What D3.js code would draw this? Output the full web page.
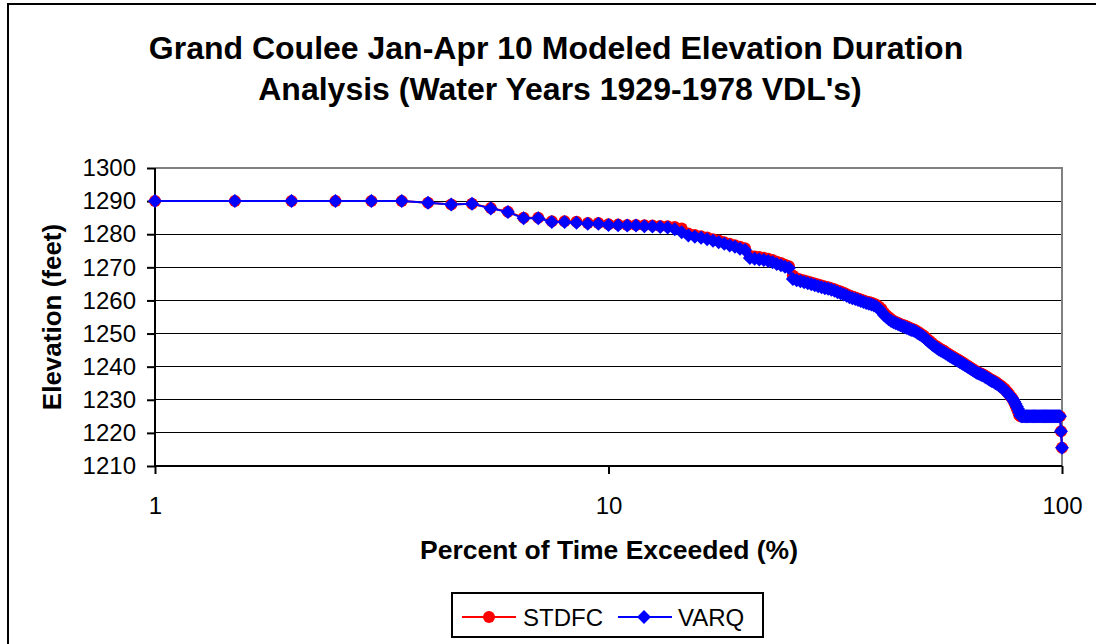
<!DOCTYPE html>
<html lang="en">
<head>
<meta charset="utf-8">
<title>Grand Coulee Elevation Duration</title>
<script src="https://d3js.org/d3.v7.min.js"></script>
<style>
  body { margin: 0; background: #fff; }
  svg { display: block; font-family: "Liberation Sans", Arial, sans-serif; }
  .tick text { font-size: 24px; fill: #000; }
</style>
</head>
<body>
<script>
// percent of time exceeded (x)
const percent = [
  1, 1.5, 2, 2.5, 3, 3.5, 4, 4.5, 5, 5.5,
  6, 6.5, 7, 7.5, 8, 8.5, 9, 9.5, 10, 10.5,
  11, 11.5, 12, 12.5, 13, 13.5, 14, 14.5, 15, 15.5,
  16, 16.5, 17, 17.5, 18, 18.5, 19, 19.5, 20, 20.5,
  21, 21.5, 22, 22.5, 23, 23.5, 24, 24.5, 25, 25.5,
  26, 26.5, 27, 27.5, 28, 28.5, 29, 29.5, 30, 30.5,
  31, 31.5, 32, 32.5, 33, 33.5, 34, 34.5, 35, 35.5,
  36, 36.5, 37, 37.5, 38, 38.5, 39, 39.5, 40, 40.5,
  41, 41.5, 42, 42.5, 43, 43.5, 44, 44.5, 45, 45.5,
  46, 46.5, 47, 47.5, 48, 48.5, 49, 49.5, 50, 50.5,
  51, 51.5, 52, 52.5, 53, 53.5, 54, 54.5, 55, 55.5,
  56, 56.5, 57, 57.5, 58, 58.5, 59, 59.5, 60, 60.5,
  61, 61.5, 62, 62.5, 63, 63.5, 64, 64.5, 65, 65.5,
  66, 66.5, 67, 67.5, 68, 68.5, 69, 69.5, 70, 70.5,
  71, 71.5, 72, 72.5, 73, 73.5, 74, 74.5, 75, 75.5,
  76, 76.5, 77, 77.5, 78, 78.5, 79, 79.5, 80, 80.5,
  81, 81.5, 82, 82.5, 83, 83.5, 84, 84.5, 85, 85.5,
  86, 86.5, 87, 87.5, 88, 88.5, 89, 89.5, 90, 90.5,
  91, 91.5, 92, 92.5, 93, 93.5, 94, 94.5, 95, 95.5,
  96, 96.5, 97, 97.5, 98, 98.5, 99, 99.5, 100
];

// STDFC elevations (feet)
const stdfc = [
  1290, 1290, 1290, 1290, 1290, 1290, 1289.5, 1289, 1289.2, 1287.9,
  1286.8, 1285, 1285, 1283.9, 1283.9, 1283.8, 1283.4, 1283.4, 1283, 1282.9,
  1282.8, 1282.8, 1282.7, 1282.6, 1282.5, 1282.4, 1282.2, 1281.7, 1280.2, 1279.8,
  1279.4, 1279.0, 1278.5, 1278.1, 1277.6, 1277.1, 1276.7, 1276.2, 1275.8, 1273.5,
  1273.3, 1273.1, 1272.9, 1272.6, 1272.2, 1271.7, 1271.3, 1270.8, 1270.3, 1267.5,
  1266.7, 1266.3, 1266.0, 1265.7, 1265.4, 1265.1, 1264.8, 1264.5, 1264.2, 1264.0,
  1263.7, 1263.4, 1263.0, 1262.7, 1262.3, 1261.9, 1261.5, 1261.2, 1260.9, 1260.6,
  1260.3, 1260.0, 1259.7, 1259.5, 1259.3, 1259.0, 1258.6, 1258.1, 1257.4, 1256.3,
  1255.5, 1254.9, 1254.3, 1253.9, 1253.5, 1253.2, 1252.9, 1252.6, 1252.4, 1252.1,
  1251.8, 1251.5, 1251.3, 1251.0, 1250.6, 1250.2, 1249.8, 1249.4, 1248.8, 1248.3,
  1247.8, 1247.3, 1246.8, 1246.4, 1246.0, 1245.6, 1245.3, 1245.0, 1244.7, 1244.3,
  1244.0, 1243.6, 1243.3, 1243.0, 1242.7, 1242.4, 1242.1, 1241.8, 1241.5, 1241.2,
  1240.8, 1240.5, 1240.2, 1239.9, 1239.6, 1239.3, 1239.0, 1238.7, 1238.4, 1238.2,
  1238.0, 1237.8, 1237.6, 1237.3, 1237.0, 1236.8, 1236.5, 1236.2, 1236.0, 1235.8,
  1235.5, 1235.3, 1235.0, 1234.7, 1234.4, 1234.1, 1233.8, 1233.4, 1233.0, 1232.6,
  1232.1, 1231.6, 1231.1, 1230.6, 1230.0, 1229.2, 1228.3, 1227.4, 1226.4, 1225.3,
  1225, 1225, 1225, 1225, 1225, 1225, 1225, 1225, 1225, 1225,
  1225, 1225, 1225, 1225, 1225, 1225, 1225, 1225, 1225, 1225,
  1225, 1225, 1225, 1225, 1225, 1225, 1225, 1225, 1225, 1225,
  1225, 1225, 1225, 1225, 1225, 1225, 1225, 1220.5, 1215.5
];

// VARQ elevations (feet)
const varq = [
  1290, 1290, 1290, 1290, 1290, 1290, 1289.5, 1289, 1289.2, 1287.8,
  1286.7, 1284.8, 1284.8, 1283.7, 1283.7, 1283.5, 1283.2, 1283.2, 1282.8, 1282.7,
  1282.6, 1282.6, 1282.4, 1282.3, 1282.2, 1282.0, 1281.5, 1280.6, 1279.6, 1279.2,
  1278.9, 1278.5, 1278.0, 1277.6, 1277.1, 1276.6, 1276.2, 1275.6, 1275.2, 1272.8,
  1272.6, 1272.4, 1272.2, 1271.9, 1271.5, 1271.0, 1270.6, 1270.2, 1269.8, 1266.5,
  1266.1, 1265.8, 1265.5, 1265.2, 1264.9, 1264.6, 1264.3, 1264.0, 1263.7, 1263.5,
  1263.2, 1262.9, 1262.5, 1262.2, 1261.8, 1261.4, 1261.0, 1260.7, 1260.4, 1260.1,
  1259.8, 1259.5, 1259.2, 1259.0, 1258.8, 1258.5, 1258.1, 1257.5, 1256.6, 1255.6,
  1254.9, 1254.3, 1253.8, 1253.4, 1253.1, 1252.8, 1252.5, 1252.2, 1252.0, 1251.7,
  1251.4, 1251.1, 1250.9, 1250.6, 1250.2, 1249.8, 1249.4, 1249.0, 1248.4, 1247.9,
  1247.4, 1246.9, 1246.4, 1246.0, 1245.6, 1245.2, 1244.9, 1244.6, 1244.3, 1243.9,
  1243.6, 1243.2, 1242.9, 1242.6, 1242.3, 1242.0, 1241.7, 1241.4, 1241.1, 1240.8,
  1240.5, 1240.2, 1239.9, 1239.6, 1239.3, 1239.0, 1238.7, 1238.4, 1238.1, 1237.9,
  1237.7, 1237.5, 1237.3, 1237.0, 1236.7, 1236.5, 1236.2, 1235.9, 1235.7, 1235.5,
  1235.2, 1235.0, 1234.7, 1234.4, 1234.1, 1233.8, 1233.5, 1233.1, 1232.7, 1232.3,
  1231.9, 1231.4, 1231.0, 1230.5, 1230.0, 1229.4, 1228.7, 1228.0, 1227.2, 1226.2,
  1225.2, 1225, 1225, 1225, 1225, 1225, 1225, 1225, 1225, 1225,
  1225, 1225, 1225, 1225, 1225, 1225, 1225, 1225, 1225, 1225,
  1225, 1225, 1225, 1225, 1225, 1225, 1225, 1225, 1225, 1225,
  1225, 1225, 1225, 1225, 1225, 1225, 1225, 1220.5, 1215.5
];

const xTicks = [1, 10, 100];
const yTicks = [1210, 1220, 1230, 1240, 1250, 1260, 1270, 1280, 1290, 1300];

const W = 1096, H = 644;
const plotL = 155, plotR = 1062, plotT = 168, plotB = 466;

const svg = d3.select("body").append("svg")
    .attr("width", W)
    .attr("height", H);

svg.append("rect").attr("width", W).attr("height", H).attr("fill", "#fff");
// chart area border (runs off the picture at right and bottom)
svg.append("rect")
    .attr("x", 8).attr("y", 4)
    .attr("width", 1110).attr("height", 660)
    .attr("fill", "none").attr("stroke", "#000").attr("stroke-width", 2);

const x = d3.scaleLog().domain([1, 100]).range([plotL, plotR]);
const y = d3.scaleLinear().domain([1210, 1300]).range([plotB, plotT]);

// title
const title = svg.append("text")
    .attr("text-anchor", "middle")
    .attr("font-weight", "bold")
    .attr("font-size", 32);
title.append("tspan").attr("x", 556).attr("y", 59)
    .text("Grand Coulee Jan-Apr 10 Modeled Elevation Duration");
title.append("tspan").attr("x", 560).attr("y", 100)
    .text("Analysis (Water Years 1929-1978 VDL's)");

// gridlines
svg.append("g")
  .selectAll("line")
  .data(yTicks.filter(v => v > 1210 && v < 1300))
  .join("line")
    .attr("x1", plotL).attr("x2", plotR)
    .attr("y1", d => y(d)).attr("y2", d => y(d))
    .attr("stroke", "#000").attr("stroke-width", 1)
    .attr("shape-rendering", "crispEdges");

// plot border, top and right in gray
svg.append("path")
    .attr("d", `M${plotL},${plotT}H${plotR}V${plotB}`)
    .attr("fill", "none").attr("stroke", "#808080").attr("stroke-width", 2);

// axes
const yAxis = svg.append("g")
    .attr("transform", `translate(${plotL},0)`)
    .call(d3.axisLeft(y).tickValues(yTicks).tickFormat(d3.format("d")).tickSize(8).tickPadding(11));
const xAxis = svg.append("g")
    .attr("transform", `translate(0,${plotB})`)
    .call(d3.axisBottom(x).tickValues(xTicks).tickFormat(d3.format("d")).tickSize(8).tickPadding(23));
[yAxis, xAxis].forEach(g => {
  g.select(".domain").remove();
  g.selectAll(".tick line").attr("stroke", "#000").attr("stroke-width", 2);
  g.selectAll(".tick text").attr("font-family", null).attr("font-size", null);
});
svg.append("path")
    .attr("d", `M${plotL},${plotT}V${plotB}H${plotR}`)
    .attr("fill", "none").attr("stroke", "#000").attr("stroke-width", 2);

// axis titles
svg.append("text")
    .attr("x", 609).attr("y", 559)
    .attr("text-anchor", "middle")
    .attr("font-weight", "bold").attr("font-size", 26.5)
    .text("Percent of Time Exceeded (%)");
svg.append("text")
    .attr("transform", "translate(61,317) rotate(-90)")
    .attr("text-anchor", "middle")
    .attr("font-weight", "bold").attr("font-size", 26)
    .text("Elevation (feet)");

// series
const line = d3.line()
    .x(d => x(d[0]))
    .y(d => y(d[1]));

const diamond = s => `M0,${-s}L${s},0L0,${s}L${-s},0Z`;

const redData = percent.map((p, i) => [p, stdfc[i]]);
const blueData = percent.map((p, i) => [p, varq[i]]);

svg.append("path").datum(redData)
    .attr("d", line).attr("fill", "none")
    .attr("stroke", "#ff0000").attr("stroke-width", 2);
svg.append("g").selectAll("circle").data(redData).join("circle")
    .attr("cx", d => x(d[0])).attr("cy", d => y(d[1]))
    .attr("r", 6).attr("fill", "#ff0000");

svg.append("path").datum(blueData)
    .attr("d", line).attr("fill", "none")
    .attr("stroke", "#0000ff").attr("stroke-width", 2);
svg.append("g").selectAll("path").data(blueData).join("path")
    .attr("transform", d => `translate(${x(d[0])},${y(d[1])})`)
    .attr("d", diamond(7)).attr("fill", "#0000ff");

// legend
const lg = svg.append("g");
lg.append("rect")
    .attr("x", 452).attr("y", 593).attr("width", 311).attr("height", 44)
    .attr("fill", "#fff").attr("stroke", "#000").attr("stroke-width", 2);
lg.append("line").attr("x1", 462).attr("x2", 516).attr("y1", 617).attr("y2", 617)
    .attr("stroke", "#ff0000").attr("stroke-width", 2);
lg.append("circle").attr("cx", 489).attr("cy", 617).attr("r", 6).attr("fill", "#ff0000");
lg.append("text").attr("x", 523).attr("y", 626).attr("font-size", 24).text("STDFC");
lg.append("line").attr("x1", 618).attr("x2", 672).attr("y1", 617).attr("y2", 617)
    .attr("stroke", "#0000ff").attr("stroke-width", 2);
lg.append("path").attr("transform", "translate(644,617)")
    .attr("d", diamond(7)).attr("fill", "#0000ff");
lg.append("text").attr("x", 678).attr("y", 626).attr("font-size", 24).text("VARQ");
</script>
</body>
</html>
